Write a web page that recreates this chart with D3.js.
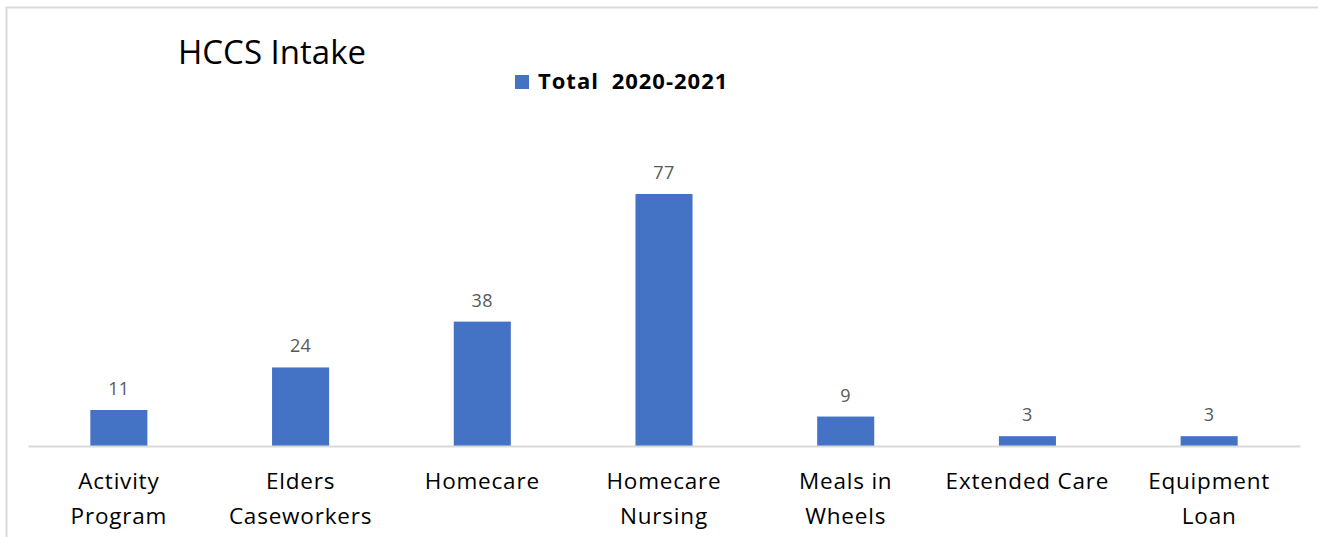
<!DOCTYPE html>
<html>
<head>
<meta charset="utf-8">
<script src="https://cdn.jsdelivr.net/npm/d3@7"></script>
<style>
  html, body { margin: 0; padding: 0; background: #fff; }
  svg { display: block; font-family: "Open Sans", "Noto Sans", sans-serif; }
</style>
</head>
<body>
<svg id="chart" width="1318" height="537"></svg>
<script>
// Intake counts by service, fiscal 2020-2021
const categories = [
  ["Activity", "Program"],
  ["Elders", "Caseworkers"],
  ["Homecare"],
  ["Homecare", "Nursing"],
  ["Meals in", "Wheels"],
  ["Extended Care"],
  ["Equipment", "Loan"]
];
const values = [11, 24, 38, 77, 9, 3, 3];
const seriesName = "Total 2020-2021";
const chartTitle = "HCCS Intake";

const svg = d3.select("#chart");
const W = 1318, H = 537;
const barColor = "#4472c4";
const gridColor = "#d9d9d9";
const fontFamily = '"Open Sans", "Noto Sans", sans-serif';

// chart frame (top and left edges visible)
svg.append("path")
  .attr("d", `M6.5,${H} V7.5 H${W}`)
  .attr("fill", "none")
  .attr("stroke", gridColor)
  .attr("stroke-width", 2);

const plot = { left: 28, right: 1300, bottom: 446 };
const ids = categories.map((c, i) => i);

const x = d3.scaleBand()
  .domain(ids)
  .range([plot.left, plot.right])
  .paddingInner(0.686)
  .paddingOuter(0.343);

const y = d3.scaleLinear()
  .domain([0, 80])
  .range([plot.bottom, plot.bottom - 80 * 3.273]);

// bars
svg.append("g").selectAll("rect")
  .data(values)
  .join("rect")
  .attr("x", (d, i) => x(i))
  .attr("width", x.bandwidth())
  .attr("y", d => y(d))
  .attr("height", d => y(0) - y(d))
  .attr("fill", barColor);

// value labels
svg.append("g").selectAll("text")
  .data(values)
  .join("text")
  .attr("x", (d, i) => x(i) + x.bandwidth() / 2)
  .attr("y", d => y(d) - 15)
  .attr("text-anchor", "middle")
  .attr("font-size", 18)
  .attr("letter-spacing", 0.4)
  .attr("fill", "#595959")
  .text(d => d);

// category axis
const xAxis = d3.axisBottom(x).tickSize(0).tickFormat("");
const gx = svg.append("g")
  .attr("transform", `translate(0,${plot.bottom})`)
  .call(xAxis)
  .attr("font-family", fontFamily);
gx.select(".domain").attr("stroke", gridColor).attr("stroke-width", 2);

gx.selectAll(".tick").each(function(d) {
  const t = d3.select(this).append("text")
    .attr("text-anchor", "middle")
    .attr("font-family", fontFamily)
    .attr("font-size", 22.5)
    .attr("letter-spacing", 0.8)
    .attr("fill", "#000")
    .attr("y", 43);
  categories[d].forEach((line, k) => {
    t.append("tspan").attr("x", 0).attr("dy", k === 0 ? 0 : 35).text(line);
  });
});

// title
svg.append("text")
  .attr("x", 178)
  .attr("y", 64)
  .attr("font-size", 33)
  .attr("fill", "#000")
  .text(chartTitle);

// legend
svg.append("rect")
  .attr("x", 515).attr("y", 75)
  .attr("width", 14).attr("height", 14)
  .attr("fill", barColor);
svg.append("text")
  .attr("x", 538).attr("y", 89)
  .attr("font-size", 22)
  .attr("font-weight", "bold")
  .attr("letter-spacing", 1)
  .attr("word-spacing", 6)
  .attr("fill", "#000")
  .text(seriesName);
</script>
</body>
</html>
